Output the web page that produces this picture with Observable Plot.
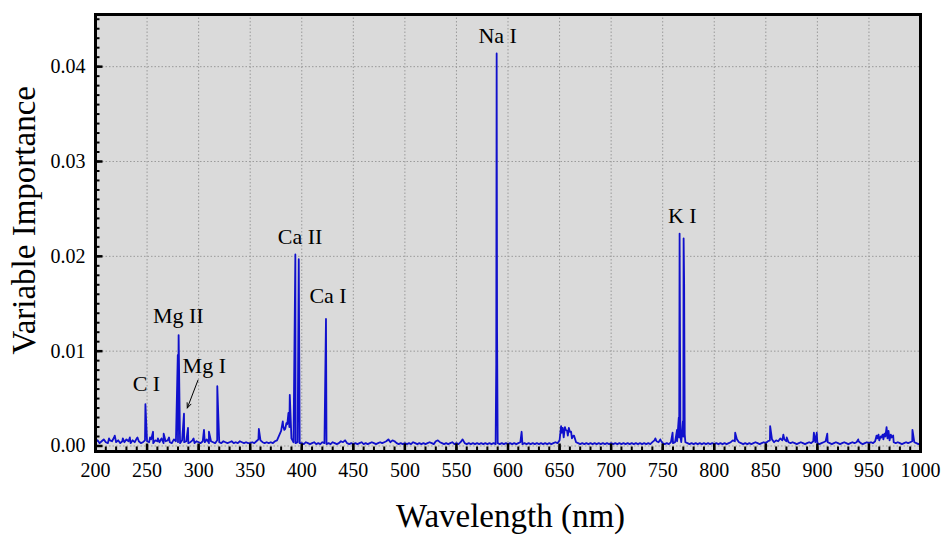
<!DOCTYPE html>
<html><head><meta charset="utf-8">
<script src="https://cdn.jsdelivr.net/npm/d3@7"></script>
<script src="https://cdn.jsdelivr.net/npm/@observablehq/plot@0.6"></script>
<style>body{margin:0;background:#fff}</style>
</head><body><div id="chart"></div>
<script>
const baseStart = 200, baseStep = 2;
const baseline = [
.0004,.0006,.0003,.0005,.0007,.0004,.0003,.0006,.0005,.0009,.0004,.0006,.0003,.0005,.0004,.0007,.0005,.0003,.0006,.0004,.0008,.0005,.0003,.0004,.0006,
.0005,.0004,.0007,.0003,.0006,.0005,.0004,.0008,.0003,.0005,.0006,.0004,.0003,.0007,.0005,.0004,.0003,.0006,.0004,.0005,.0003,.0004,.0006,.0003,.0005,
.0004,.0003,.0005,.0004,.0007,.0003,.0005,.0004,.0003,.0006,.0004,.0003,.0005,.0004,.0003,.0004,.0005,.0003,.0004,.0003,.0005,.0004,.0003,.0004,.0003,
.0003,.0004,.0003,.0005,.0007,.0006,.0004,.0003,.0004,.0003,.0004,.0003,.0005,.0006,.0011,.0016,.0021,.0018,.0023,.0020,.0008,.0004,.0003,.0004,.0003,
.0003,.0002,.0004,.0003,.0002,.0003,.0004,.0002,.0003,.0002,.0004,.0003,.0002,.0003,.0002,.0004,.0003,.0002,.0003,.0005,.0004,.0006,.0003,.0002,.0003,
.0002,.0003,.0002,.0003,.0004,.0002,.0003,.0002,.0003,.0004,.0003,.0002,.0003,.0004,.0003,.0004,.0005,.0007,.0004,.0006,.0005,.0003,.0002,.0003,.0002,
.0003,.0002,.0003,.0002,.0004,.0003,.0002,.0003,.0002,.0003,.0002,.0003,.0004,.0003,.0002,.0005,.0006,.0004,.0003,.0002,.0003,.0002,.0003,.0004,.0002,
.0003,.0002,.0004,.0007,.0003,.0002,.0003,.0002,.0003,.0002,.0003,.0002,.0003,.0002,.0003,.0002,.0003,.0002,.0003,.0002,.0003,.0002,.0003,.0002,.0003,
.0002,.0003,.0002,.0003,.0002,.0003,.0004,.0002,.0003,.0002,.0003,.0002,.0003,.0002,.0003,.0002,.0003,.0002,.0003,.0002,.0003,.0002,.0003,.0004,.0003,
.0006,.0014,.0009,.0017,.0011,.0015,.0008,.0011,.0004,.0003,.0002,.0003,.0002,.0003,.0002,.0003,.0002,.0003,.0002,.0003,.0002,.0003,.0002,.0003,.0002,
.0003,.0002,.0003,.0002,.0003,.0002,.0003,.0002,.0003,.0002,.0003,.0002,.0003,.0002,.0003,.0002,.0003,.0002,.0003,.0002,.0004,.0006,.0005,.0004,.0006,
.0003,.0002,.0003,.0002,.0004,.0003,.0004,.0005,.0009,.0004,.0010,.0004,.0003,.0002,.0003,.0002,.0003,.0002,.0003,.0002,.0003,.0002,.0003,.0002,.0003,
.0002,.0003,.0002,.0003,.0002,.0003,.0002,.0003,.0004,.0006,.0005,.0007,.0004,.0003,.0002,.0003,.0002,.0003,.0002,.0003,.0004,.0003,.0002,.0003,.0004,
.0003,.0005,.0006,.0007,.0004,.0006,.0005,.0008,.0006,.0007,.0005,.0004,.0003,.0004,.0003,.0002,.0003,.0004,.0003,.0002,.0003,.0004,.0003,.0005,.0004,
.0003,.0002,.0003,.0004,.0005,.0004,.0003,.0002,.0003,.0004,.0003,.0002,.0003,.0004,.0003,.0002,.0003,.0004,.0003,.0004,.0005,.0003,.0002,.0003,.0004,
.0003,.0004,.0003,.0005,.0008,.0006,.0009,.0007,.0010,.0008,.0006,.0009,.0004,.0003,.0004,.0003,.0002,.0003,.0004,.0003,.0004,.0005,.0004,.0003,.0002,
.0003
];
// Emission-line spikes (wavelength nm, variable importance)
const peakWavelength = [213.1,218.7,226.5,233.3,240.7,248.4,252.9,255.8,260.5,266.1,271.3,279.8,280.6,285.8,289.7,295.1,305.2,310.0,318.1,358.4,
  381.6,383.1,385.1,387.1,388.4,393.8,397.1,423.5,588.6,589.0,589.4,613.2,651.5,653.1,655.2,657.3,659.0,661.2,663.4,
  742.9,747.7,759.6,763.9,765.6,766.4,767.2,769.6,770.3,770.8,771.4,820.3,854.2,867.0,870.3,896.6,899.4,909.6,939.6,
  957.4,959.3,961.4,963.3,965.1,967.1,969.0,971.2,973.5,992.2];
const peakValue = [.0008,.0011,.0008,.0009,.0009,.0044,.0009,.0015,.0008,.0013,.0009,.0096,.0117,.0034,.0019,.0008,.0017,.0015,.0063,.0018,
  .0026,.0017,.0024,.0035,.0054,.0202,.0197,.0134,.0087,.0414,.0120,.0015,.0021,.0019,.0020,.0016,.0019,.0015,.0011,
  .0008,.0007,.0014,.0017,.0030,.0224,.0010,.0026,.0219,.0171,.0012,.0014,.0021,.0012,.0009,.0014,.0014,.0013,.0007,
  .0011,.0012,.0010,.0012,.0013,.0020,.0016,.0012,.0011,.0017];

const lineLabels = ["C I","Mg II","Mg I","Ca II","Ca I","Na I","K I"];
const labelWavelength = [249.4,280.3,305.5,398.4,425.5,590.0,769.0];
const labelValue = [0.00653,0.01374,0.00847,0.02205,0.01584,0.04326,0.02426];
const arrowStart = {x: 299.4, y: 0.00695};
const arrowEnd = {x: 289.0, y: 0.0040};

const xTicks = [200,250,300,350,400,450,500,550,600,650,700,750,800,850,900,950,1000];
const yTicks = [0.00,0.01,0.02,0.03,0.04];
const xMinor = d3.range(200, 1001, 10);
const yMinor = d3.range(0, 0.0455, 0.001);
const xDomain = [200, 1000], yDomain = [-0.00058, 0.0455];

const rows = baseline.map((v, i) => ({wl: baseStart + i * baseStep, v}))
  .concat(peakWavelength.map((w, i) => ({wl: w, v: peakValue[i]})))
  .sort((a, b) => a.wl - b.wl);

const W = 943, H = 535, mL = 95, mR = 23, mT = 14, mB = 84;
const innerW = W - mL - mR, innerH = H - mT - mB;

const chart = Plot.plot({
  width: W, height: H,
  marginLeft: mL, marginRight: mR, marginTop: mT, marginBottom: mB,
  x: {domain: xDomain},
  y: {domain: yDomain},
  style: {fontFamily: "'Liberation Serif', 'Times New Roman', serif", fontSize: "20px", color: "black", background: "white"},
  marks: [
    Plot.frame({fill: "#dadada"}),
    Plot.gridX({ticks: xTicks, stroke: "#9a9a9a", strokeOpacity: 1, strokeDasharray: "1.5,2"}),
    Plot.gridY({ticks: yTicks, stroke: "#9a9a9a", strokeOpacity: 1, strokeDasharray: "1.5,2"}),
    Plot.line(rows, {x: "wl", y: "v", stroke: "#1010cc", strokeWidth: 1.8}),
    Plot.frame({stroke: "black", strokeWidth: 3}),
    Plot.tickX(xMinor, {x: d => d, insetTop: innerH - 4.5, stroke: "black", strokeWidth: 2}),
    Plot.tickX(xTicks, {x: d => d, insetTop: innerH - 7.5, stroke: "black", strokeWidth: 2.5}),
    Plot.tickY(yMinor, {y: d => d, insetRight: innerW - 4.5, stroke: "black", strokeWidth: 2}),
    Plot.tickY(yTicks, {y: d => d, insetRight: innerW - 7.5, stroke: "black", strokeWidth: 2.5}),
    Plot.axisX({ticks: xTicks, tickFormat: d => String(d), tickSize: 0, tickPadding: 11, label: null, fontSize: 20}),
    Plot.axisY({ticks: yTicks, tickFormat: d3.format(".2f"), tickSize: 0, tickPadding: 10, label: null, fontSize: 20}),
    Plot.text(lineLabels, {x: (d, i) => labelWavelength[i], y: (d, i) => labelValue[i], text: d => d, fontSize: 22, lineAnchor: "middle", fill: "black"}),
    Plot.arrow([arrowStart], {x1: d => d.x, y1: d => d.y, x2: () => arrowEnd.x, y2: () => arrowEnd.y, stroke: "black", strokeWidth: 1, headLength: 8, headAngle: 45}),
    Plot.text(["Wavelength (nm)"], {frameAnchor: "bottom", textAnchor: "middle", dx: 2.5, dy: 75, lineAnchor: "bottom", fontSize: 33, fill: "black"}),
    Plot.text(["Variable Importance"], {frameAnchor: "left", textAnchor: "middle", rotate: -90, dx: -61, dy: -12.7, lineAnchor: "bottom", fontSize: 33, fill: "black"})
  ]
});
document.getElementById("chart").append(chart);
</script>
</body></html>
